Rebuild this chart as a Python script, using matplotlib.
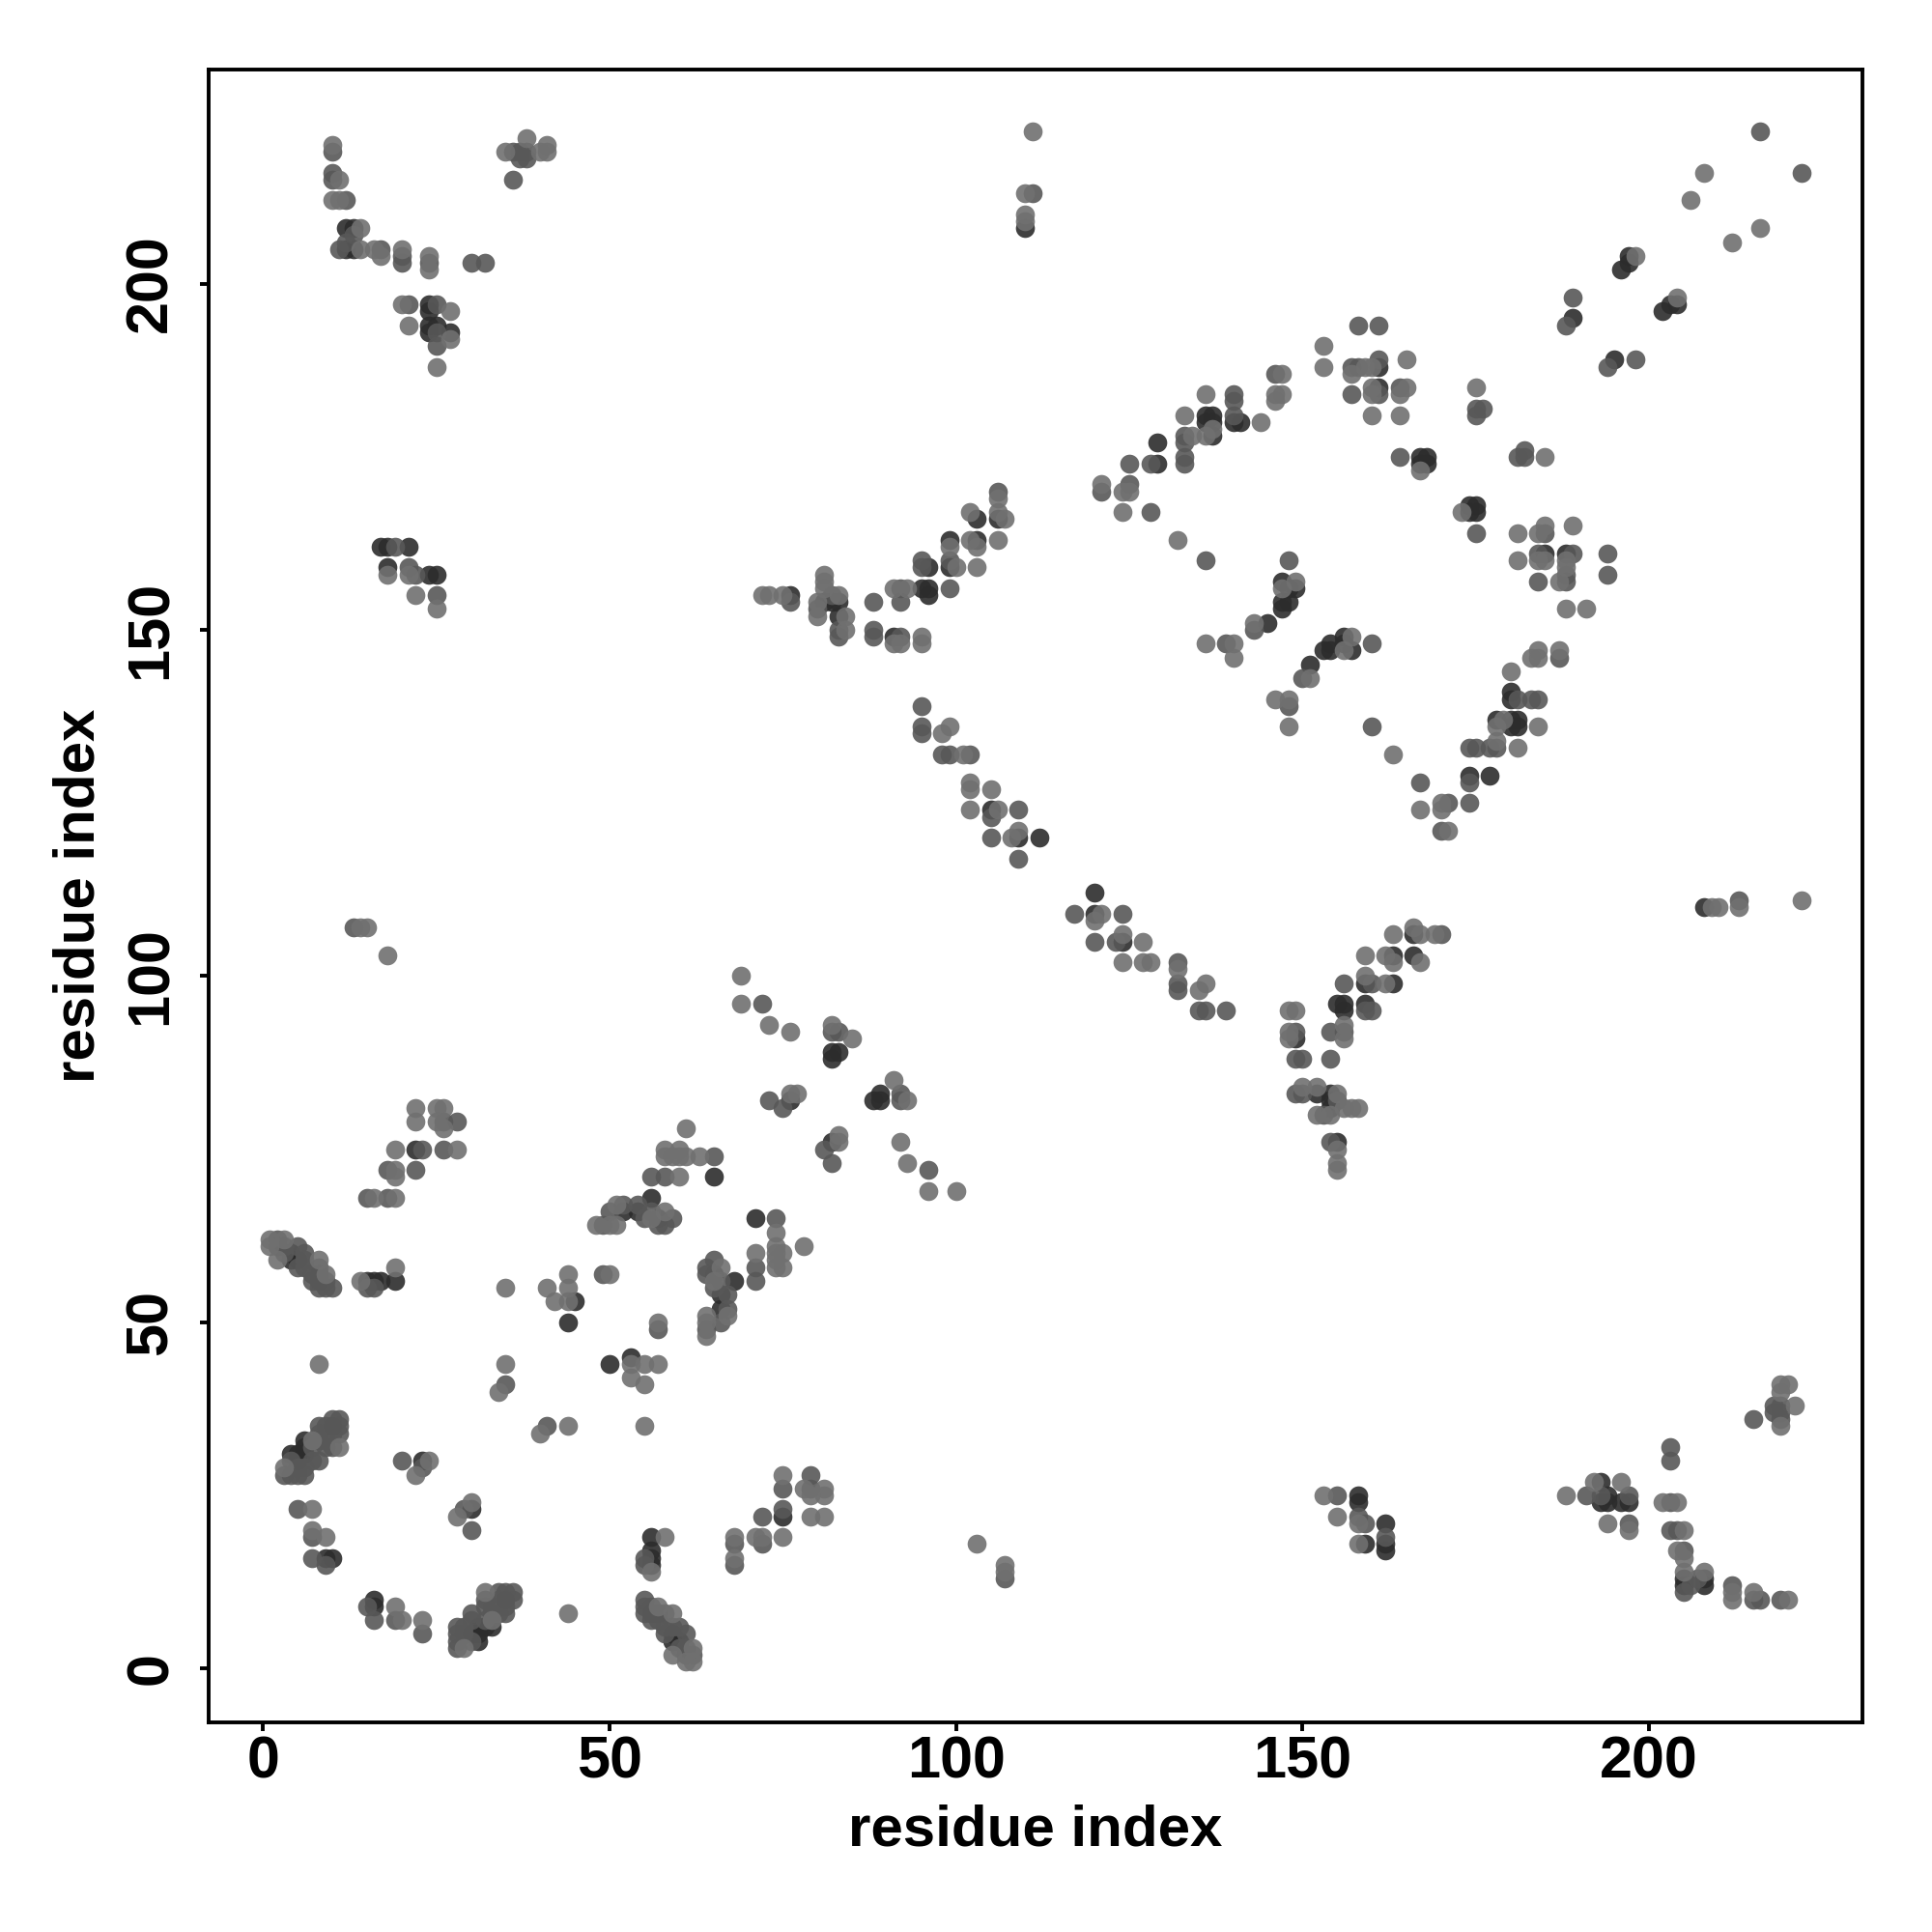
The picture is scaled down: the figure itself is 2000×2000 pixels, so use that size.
import matplotlib
matplotlib.use("Agg")
import matplotlib.pyplot as plt

plt.rcParams['font.family'] = ['Liberation Sans', 'DejaVu Sans']

# contacts (i < j), the map is symmetric so only one triangle is listed
light_pairs = [
    (1,62),(3,62),(1,61),(2,59),(8,59),(9,57),(14,56),(19,58),(8,44),(7,33),(11,32),(3,29),
    (24,30),(22,28),(7,23),(7,20),(9,19),(16,68),(19,72),(19,71),(19,68),(19,75),(28,75),(22,79),
    (22,81),(25,81),(26,81),(25,79),(26,78),(41,55),(44,55),(44,57),(42,53),(44,53),(50,57),(35,44),
    (34,40),(35,55),(58,66),(56,65),(51,67),(51,64),(50,64),(48,64),(58,75),(58,74),(59,74),(60,74),
    (60,75),(61,74),(63,74),(61,78),(60,71),(77,83),(76,83),(82,93),(85,91),(76,92),(73,93),(69,96),
    (69,100),(72,155),(73,155),(75,155),(83,155),(81,158),(81,157),(81,156),(80,154),(80,152),(84,152),(84,150),
    (91,148),(92,148),(95,149),(95,148),(91,156),(93,156),(100,159),(103,159),(99,162),(102,163),(103,162),(106,163),
    (102,167),(106,167),(107,166),(106,169),(99,136),(98,135),(101,132),(102,128),(102,127),(105,127),(102,124),(106,124),
    (108,120),(109,121),(121,171),(124,170),(125,170),(124,167),(132,163),(134,178),(133,181),(136,184),(136,178),(137,179),
    (144,180),(147,187),(146,184),(147,184),(146,183),(149,157),(147,156),(143,151),(136,148),(140,148),(140,146),(153,191),
    (153,188),(157,187),(159,188),(160,188),(165,189),(160,185),(160,184),(165,185),(164,184),(160,181),(164,181),(175,185),
    (167,173),(208,216),(206,212),(198,204),(10,220),(11,215),(10,212),(11,212),(14,208),(14,205),(16,205),(17,204),
    (20,205),(24,204),(24,202),(20,197),(21,194),(27,196),(27,192),(25,188),(38,221),(35,219),(40,219),(41,219),
    (41,220),(110,210),(110,213),(111,222),(110,209),(14,107),(15,107),(18,103),(25,153),(22,155),(21,158),(18,158),
]
mid_pairs = [
    (2,62),(2,61),(3,61),(5,61),(6,60),(3,60),(5,58),(6,58),(6,59),(7,57),(8,58),(7,56),
    (9,55),(9,56),(10,55),(8,55),(15,55),(16,55),(11,36),(10,36),(11,35),(9,35),(11,34),(10,34),
    (8,35),(8,34),(8,33),(9,33),(9,32),(10,32),(7,32),(7,30),(8,30),(4,30),(5,29),(6,29),
    (3,28),(4,28),(5,28),(6,28),(20,30),(23,29),(5,23),(7,19),(7,16),(9,15),(18,72),(22,72),
    (15,68),(18,68),(23,75),(26,75),(26,79),(28,79),(49,57),(35,41),(59,65),(58,64),(57,64),(56,66),
    (54,67),(52,67),(50,66),(49,64),(55,65),(65,74),(58,71),(56,71),(75,81),(73,82),(82,92),(83,92),
    (72,96),(76,154),(82,155),(80,153),(83,150),(83,149),(88,154),(88,150),(88,149),(92,149),(92,156),(99,156),
    (92,154),(95,160),(95,159),(99,160),(106,170),(95,139),(95,136),(95,135),(98,132),(99,132),(102,132),(105,123),
    (109,124),(105,120),(109,117),(121,170),(125,171),(128,167),(125,174),(128,174),(136,160),(133,174),(133,175),(133,177),
    (133,178),(140,184),(140,183),(140,181),(146,187),(148,160),(143,150),(139,148),(157,188),(158,188),(161,189),(158,194),
    (161,194),(157,184),(161,184),(164,185),(175,182),(176,182),(175,181),(164,175),(216,222),(189,198),(188,194),(10,219),
    (10,216),(10,215),(12,212),(11,205),(12,206),(13,207),(17,205),(20,204),(20,203),(24,203),(30,203),(32,203),
    (21,197),(25,197),(25,193),(25,191),(36,219),(37,219),(37,218),(38,218),(38,219),(36,215),(111,213),(13,107),
    (25,155),(22,158),(21,159),(19,162),
]
dark_pairs = [
    (4,60),(4,59),(5,59),(8,56),(8,57),(15,56),(16,56),(17,56),(19,56),(10,35),(6,33),(6,32),
    (5,31),(4,31),(6,31),(5,30),(23,30),(9,16),(10,16),(22,75),(45,53),(44,50),(57,65),(54,66),
    (52,66),(56,68),(65,71),(76,82),(82,88),(82,89),(83,89),(76,155),(81,154),(82,154),(83,154),(83,152),
    (91,149),(95,156),(96,156),(96,155),(96,159),(99,159),(99,163),(103,163),(103,166),(106,166),(105,124),(109,120),
    (112,120),(129,174),(129,177),(136,181),(137,181),(136,180),(137,180),(137,178),(140,180),(141,180),(147,157),(148,156),
    (149,156),(147,154),(148,154),(147,153),(145,151),(161,188),(161,185),(167,175),(168,175),(167,174),(168,174),(197,204),
    (196,202),(197,203),(189,195),(12,208),(13,208),(12,205),(13,205),(24,197),(24,196),(24,194),(24,193),(25,194),
    (27,193),(110,208),(25,158),(24,158),(21,162),(18,159),(18,162),(17,162),
]
tick_values = [0, 50, 100, 150, 200]

W = 2000.0
fig = plt.figure(figsize=(10, 10), dpi=200)
ax = fig.add_axes([216 / W, 1 - 1783 / W, (1928 - 216) / W, (1783 - 72) / W])

# dark first so the lighter dots end up on top, like the original
for pairs, col in [(dark_pairs, "#2c2c2c"), (mid_pairs, "#585858"), (light_pairs, "#707070")]:
    xs = [p[0] for p in pairs] + [p[1] for p in pairs]
    ys = [p[1] for p in pairs] + [p[0] for p in pairs]
    ax.scatter(xs, ys, s=50, c=col, alpha=0.9, linewidths=0, zorder=3)

ax.set_xlim(-7.85, 230.8)
ax.set_ylim(-7.77, 230.9)
ax.set_xticks(tick_values)
ax.set_yticks(tick_values)
ax.tick_params(width=1.4, length=3.4, labelsize=22)
ax.tick_params(axis="x", pad=1.6)
ax.tick_params(axis="y", pad=7.5)
for lab in ax.get_xticklabels():
    lab.set_fontweight("bold")
for lab in ax.get_yticklabels():
    lab.set_fontweight("bold")
    lab.set_rotation(90)
    lab.set_va("center")
for s in ax.spines.values():
    s.set_linewidth(1.4)

ax.set_xlabel("residue index", fontsize=21.6, fontweight="bold")
ax.set_ylabel("residue index", fontsize=21.6, fontweight="bold")
ax.xaxis.set_label_coords(0.5, (1783 - 1895) / (1783 - 72), transform=ax.transAxes)
ax.xaxis.label.set_va("center")
ax.yaxis.set_label_coords((82 - 216) / (1928 - 216), 0.5, transform=ax.transAxes)
ax.yaxis.label.set_va("center")

fig.savefig("out.png", dpi=200, facecolor="white")
